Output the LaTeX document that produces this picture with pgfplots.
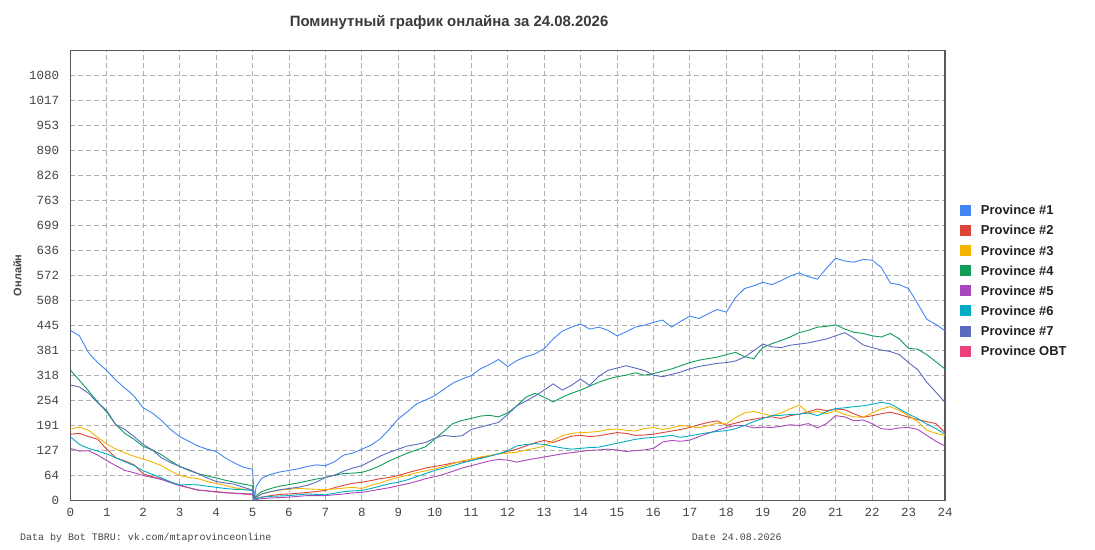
\documentclass[border=0pt]{standalone}
\usepackage{fontspec}
\setmainfont{Liberation Sans}
\newfontfamily\monofont{Liberation Mono}
\usepackage{pgfplots}
\usepackage{pgfplotstable}
\pgfplotsset{compat=1.18}
\definecolor{c1}{HTML}{4285F4}
\definecolor{c2}{HTML}{DB4437}
\definecolor{c3}{HTML}{F4B400}
\definecolor{c4}{HTML}{0F9D58}
\definecolor{c5}{HTML}{AB47BC}
\definecolor{c6}{HTML}{00ACC1}
\definecolor{c7}{HTML}{5C6BC0}
\definecolor{c8}{HTML}{EC407A}
\definecolor{framegray}{HTML}{5A5A5A}
\definecolor{gridgray}{HTML}{AFAFAF}
\definecolor{ticktext}{HTML}{444444}
\definecolor{titletext}{HTML}{3A3A3A}
\definecolor{legtext}{HTML}{202020}

\pgfplotstableread{
h p1 p2 p3 p4 p5 p6 p7
0 432 168 181 331 132 162 293
0.25 418 170 186 305 125 142 288
0.5 375 162 178 278 126 132 272
0.75 350 155 160 250 115 125 248
1 330 130 143 224 101 118 228
1.25 305 108 130 192 88 108 192
1.5 285 100 120 170 76 98 180
1.75 265 90 112 155 70 88 162
2 235 67 105 137 63 75 142
2.25 222 60 97 128 58 66 128
2.5 203 54 88 116 53 57 108
2.75 180 46 75 100 45 47 96
3 162 39 63 86 37 39 86
3.25 150 32 58 76 32 40 78
3.5 138 26 55 68 26 39 68
3.75 130 24 48 62 24 36 57
4 124 22 43 57 21 33 48
4.25 108 20 38 51 19 30 44
4.5 95 18 32 46 18 28 41
4.75 84 16 28 41 17 27 33
5 79 14 25 37 16 25 26
5.05 2 1 2 3 0 1 2
5.1 35 5 8 12 2 4 8
5.25 56 8 16 22 4 8 16
5.5 66 12 22 30 6 10 22
5.75 72 15 26 36 7 11 27
6 76 16 28 40 8 12 30
6.25 80 18 30 44 10 14 33
6.5 86 20 29 49 12 16 38
6.75 90 22 28 54 12 15 46
7 88 25 27 58 12 14 58
7.25 98 32 29 64 14 18 64
7.5 115 38 31 68 16 22 74
7.75 120 43 33 69 19 24 82
8 130 46 30 71 20 25 88
8.25 140 50 38 78 24 30 100
8.5 156 55 44 88 28 36 112
8.75 180 58 52 100 32 42 122
9 207 63 58 110 37 46 130
9.25 225 70 64 120 42 52 138
9.5 245 76 70 128 48 60 142
9.75 255 82 75 136 55 68 147
10 266 86 80 156 60 76 158
10.25 282 90 86 175 66 82 165
10.5 298 95 93 195 74 88 162
10.75 308 98 100 203 82 95 164
11 317 101 105 208 88 101 180
11.25 334 108 110 214 94 106 186
11.5 345 113 114 216 100 112 192
11.75 358 118 118 212 104 118 198
12 340 124 120 222 102 126 218
12.25 355 130 122 240 97 138 240
12.5 365 138 128 262 102 142 252
12.75 372 146 132 272 106 144 265
13 385 152 138 262 110 142 280
13.25 410 147 152 250 114 137 296
13.5 430 155 164 262 118 133 280
13.75 440 163 170 272 121 130 292
14 448 165 172 280 124 132 308
14.25 435 162 173 290 127 134 292
14.5 440 164 175 300 128 135 315
14.75 432 168 180 308 130 140 330
15 418 172 181 314 128 145 336
15.25 428 170 178 318 124 150 342
15.5 440 165 176 324 126 155 336
15.75 445 166 182 318 128 158 330
16 452 168 185 322 132 160 318
16.25 458 172 180 328 148 162 314
16.5 440 176 184 334 152 165 320
16.75 455 180 190 342 150 160 326
17 468 185 188 350 153 164 334
17.25 462 192 184 356 162 168 340
17.5 474 198 190 360 170 172 344
17.75 485 202 196 364 178 175 348
18 478 190 194 370 185 177 350
18.25 515 196 210 376 190 182 354
18.5 538 202 222 365 190 190 364
18.75 545 206 226 360 184 200 380
19 554 210 220 388 186 208 397
19.25 548 212 215 398 185 215 390
19.5 558 208 222 406 188 216 388
19.75 570 215 232 415 192 218 394
20 578 219 242 426 190 219 397
20.25 568 225 222 432 195 222 400
20.5 562 232 226 440 184 215 405
20.75 590 228 220 442 195 225 410
21 615 232 228 446 215 233 418
21.25 608 230 218 435 212 235 426
21.5 605 220 212 427 202 238 412
21.75 612 211 211 424 204 240 395
22 610 215 222 418 195 244 388
22.25 592 220 232 415 182 249 382
22.5 552 224 238 424 180 245 378
22.75 548 218 228 410 184 232 370
23 538 211 215 386 185 219 350
23.25 500 205 200 384 180 208 332
23.5 460 200 178 370 165 194 300
23.75 447 195 170 352 150 182 275
24 431 172 165 334 138 168 249
}\data

\begin{document}
\begin{tikzpicture}
\useasboundingbox (-70.3bp,-49.7bp) rectangle (1024.7bp,500.3bp);
\begin{axis}[
  at={(0,0)}, anchor=south west,
  scale only axis, width=874.7bp, height=450bp,
  xmin=0, xmax=24, ymin=0, ymax=1143.53,
  xtick={0,1,2,3,4,5,6,7,8,9,10,11,12,13,14,15,16,17,18,19,20,21,22,23,24},
  xticklabels={0,1,2,3,4,5,6,7,8,9,10,11,12,13,14,15,16,17,18,19,20,21,22,23,24},
  ytick={0,63.529,127.059,190.588,254.118,317.647,381.176,444.706,508.235,571.765,635.294,698.824,762.353,825.882,889.412,952.941,1016.47,1080},
  yticklabels={0,64,127,191,254,318,381,445,508,572,636,699,763,826,890,953,1017,1080},
  tick style={draw=none}, major tick length=0pt,
  tick label style={font=\monofont\fontsize{12.5}{14}\selectfont, text=ticktext},
  xticklabel style={anchor=north, inner sep=0pt, yshift=-8bp},
  yticklabel style={anchor=east, inner sep=0pt, xshift=-11bp},
  grid=major,
  major grid style={draw=gridgray, dash pattern=on 5bp off 3bp, line width=0.8bp},
  axis line style={draw=framegray, line width=1.3bp},
  title={Поминутный график онлайна за 24.08.2026},
  title style={at={(axis description cs:0.433,1.0489)}, anchor=center, font=\bfseries\fontsize{15}{17}\selectfont, text=titletext},
  ylabel={Онлайн},
  ylabel style={at={(axis description cs:-0.0606,0.5)}, anchor=center, font=\bfseries\fontsize{11}{13}\selectfont, text=ticktext},
  xlabel={Date 24.08.2026},
  xlabel style={at={(axis description cs:0.762,-0.0827)}, anchor=center, font=\monofont\fontsize{10}{12}\selectfont, text=ticktext},
  legend style={at={(axis description cs:1.01715,0.6569)}, anchor=north west, draw=none, fill=none,
    inner sep=0pt, outer sep=0pt, row sep=7bp, column sep=10bp,
    font=\bfseries\fontsize{13}{15}\selectfont, text=legtext,
    nodes={inner sep=0pt, text height=10bp, text depth=3bp},
    cells={anchor=base west}},
  legend image code/.code={\fill[#1] (0bp,-0.3bp) rectangle (10bp,9.7bp);},
  every axis plot/.append style={line width=0.9bp},
]
\addplot[c1] table[x=h,y=p1]{\data};
\addplot[c2] table[x=h,y=p2]{\data};
\addplot[c3] table[x=h,y=p3]{\data};
\addplot[c4] table[x=h,y=p4]{\data};
\addplot[c5] table[x=h,y=p5]{\data};
\addplot[c6] table[x=h,y=p6]{\data};
\addplot[c7] table[x=h,y=p7]{\data};
\addlegendimage{c8}
\legend{Province \#1, Province \#2, Province \#3, Province \#4, Province \#5, Province \#6, Province \#7, Province OBT}
\end{axis}
\node[anchor=west, inner sep=0pt, font=\monofont\fontsize{10}{12}\selectfont, text=ticktext] at (-50.3bp,-37.2bp) {Data by Bot TBRU: vk.com/mtaprovinceonline};
\end{tikzpicture}
\end{document}
